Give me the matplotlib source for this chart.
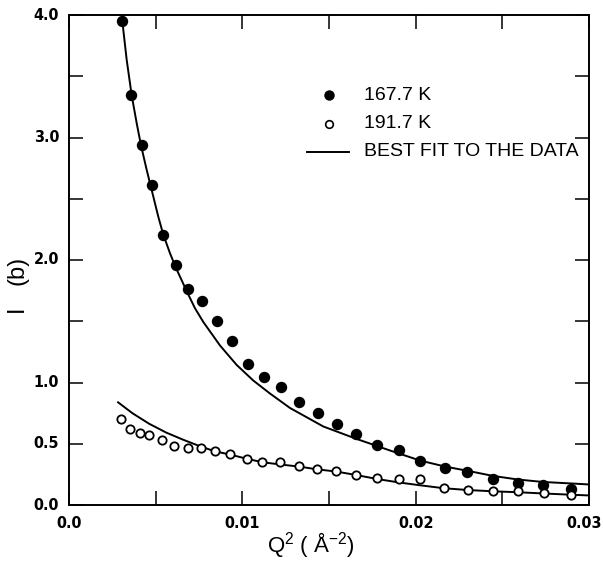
import matplotlib
matplotlib.use("Agg")
import matplotlib.pyplot as plt
from matplotlib.ticker import MultipleLocator

# Measured intensities, 167.7 K (filled circles)
q2_cold = [0.003075, 0.003594, 0.004194, 0.004806, 0.005440, 0.006156, 0.006877,
           0.007679, 0.008521, 0.009387, 0.010310, 0.011267, 0.012242, 0.013287,
           0.014365, 0.015462, 0.016558, 0.017781, 0.019056, 0.020268, 0.021692,
           0.022962, 0.024444, 0.025921, 0.027364, 0.028962]
i_cold = [3.951, 3.345, 2.936, 2.615, 2.207, 1.957, 1.767, 1.665, 1.502, 1.339,
          1.153, 1.047, 0.961, 0.842, 0.751, 0.660, 0.578, 0.492, 0.447, 0.362,
          0.304, 0.267, 0.210, 0.182, 0.161, 0.128]

# Measured intensities, 191.7 K (open circles)
q2_warm = [0.003000, 0.003537, 0.004113, 0.004633, 0.005348, 0.006058, 0.006848,
           0.007587, 0.008440, 0.009288, 0.010287, 0.011163, 0.012185, 0.013252,
           0.014319, 0.015421, 0.016569, 0.017787, 0.019038, 0.020250, 0.021617,
           0.023036, 0.024444, 0.025921, 0.027387, 0.028944]
i_warm = [0.702, 0.623, 0.590, 0.571, 0.528, 0.484, 0.465, 0.465, 0.441, 0.416,
          0.378, 0.351, 0.355, 0.320, 0.294, 0.280, 0.247, 0.223, 0.210, 0.210,
          0.136, 0.122, 0.117, 0.112, 0.096, 0.084]

# Best-fit curves
fit_q2_cold = [0.003058, 0.003133, 0.003329, 0.003617, 0.003906, 0.004154, 0.004483,
               0.004771, 0.005152, 0.005440, 0.005827, 0.006173, 0.006837, 0.007269,
               0.007748, 0.008712, 0.009675, 0.010633, 0.011596, 0.012750, 0.014671,
               0.016598, 0.018519, 0.020250, 0.021692, 0.023037, 0.024479, 0.025904,
               0.027346, 0.028962, 0.030058]
fit_i_cold = [4.000, 3.878, 3.633, 3.344, 3.116, 2.936, 2.735, 2.571, 2.353, 2.207,
              2.055, 1.935, 1.731, 1.606, 1.494, 1.302, 1.143, 1.016, 0.910, 0.792,
              0.641, 0.539, 0.445, 0.363, 0.314, 0.278, 0.237, 0.208, 0.188, 0.176,
              0.167]

fit_q2_warm = [0.002787, 0.003663, 0.004615, 0.005596, 0.006548, 0.007587, 0.008423,
               0.009288, 0.010298, 0.011163, 0.012173, 0.013252, 0.014325, 0.015421,
               0.016558, 0.017787, 0.019038, 0.020250, 0.021617, 0.023037, 0.024444,
               0.025921, 0.027387, 0.028944, 0.030000]
fit_i_warm = [0.843, 0.749, 0.664, 0.592, 0.535, 0.478, 0.438, 0.412, 0.376, 0.349,
              0.331, 0.314, 0.291, 0.273, 0.245, 0.212, 0.184, 0.161, 0.137, 0.122,
              0.112, 0.104, 0.094, 0.084, 0.078]

x_tick_labels = ["0.0", "0.01", "0.02", "0.03"]
y_tick_labels = ["0.0", "0.5", "1.0", "2.0", "3.0", "4.0"]

tick_font = ["DejaVu Sans"]
text_font = ["Liberation Sans", "DejaVu Sans"]

fig = plt.figure(figsize=(6.03, 5.61), dpi=100)
ax = fig.add_axes([69 / 603, 1 - 505 / 561, 520 / 603, 490 / 561])

ax.plot(fit_q2_cold, fit_i_cold, color="black", lw=1.4, solid_capstyle="butt")
ax.plot(fit_q2_warm, fit_i_warm, color="black", lw=1.4, solid_capstyle="butt")
ax.plot(q2_cold, i_cold, "o", ms=7.2, color="black", mec="black")
ax.plot(q2_warm, i_warm, "o", ms=6.0, mfc="white", mec="black", mew=1.3)

ax.set_xlim(0, 0.03)
ax.set_ylim(0, 4.0)

ax.xaxis.set_major_locator(MultipleLocator(0.005))
ax.yaxis.set_major_locator(MultipleLocator(0.5))
ax.tick_params(which="major", direction="in", length=10, width=1.1,
               top=True, right=True, labelbottom=False, labelleft=False)
for s in ax.spines.values():
    s.set_linewidth(1.4)

# Labelled tick values (the last x label is kept inside the figure edge)
for k, lab in enumerate(x_tick_labels):
    last = k == len(x_tick_labels) - 1
    ax.annotate(lab, xy=(float(lab), 0), xycoords="data",
                xytext=(9 if last else 0, -8), textcoords="offset points",
                ha="right" if last else "center", va="top", fontsize=11.5,
                fontweight="bold", fontstretch="condensed", family=tick_font)
for lab in y_tick_labels:
    ax.annotate(lab, xy=(0, float(lab)), xycoords="data",
                xytext=(-7, 0), textcoords="offset points",
                ha="right", va="center", fontsize=11.5, fontweight="bold",
                fontstretch="condensed", family=tick_font)

# Axis titles
fig.text(17 / 603, 1 - 309 / 561, "I", rotation=90, ha="center", va="center",
         fontsize=17, family=text_font)
fig.text(17 / 603, 1 - 270 / 561, "(b)", rotation=90, ha="center", va="center",
         fontsize=17, family=text_font)
fig.text(311 / 603, 1 - 545 / 561, r"Q$^\mathregular{2}$ ( Å$^\mathregular{-2}$)",
         ha="center", va="center", fontsize=16, family=text_font)

# Legend
def px(x, y):
    return (x / 603, 1 - y / 561)

fig.lines.append(plt.Line2D([px(329, 95)[0]], [px(329, 95)[1]], marker="o", ms=6.5,
                            color="black", transform=fig.transFigure))
fig.lines.append(plt.Line2D([px(329, 123.5)[0]], [px(329, 123.5)[1]], marker="o", ms=5.5,
                            mfc="white", mec="black", mew=1.2, transform=fig.transFigure))
fig.lines.append(plt.Line2D([px(307, 152)[0], px(349, 152)[0]],
                            [px(307, 152)[1], px(349, 152)[1]],
                            color="black", lw=1.4, transform=fig.transFigure))
for y, txt in [(95, "167.7 K"), (123.5, "191.7 K"), (152, "BEST FIT TO THE DATA")]:
    fig.text(*px(364, y), txt, ha="left", va="center", fontsize=14, family=text_font)

fig.savefig("out.png", dpi=100)
